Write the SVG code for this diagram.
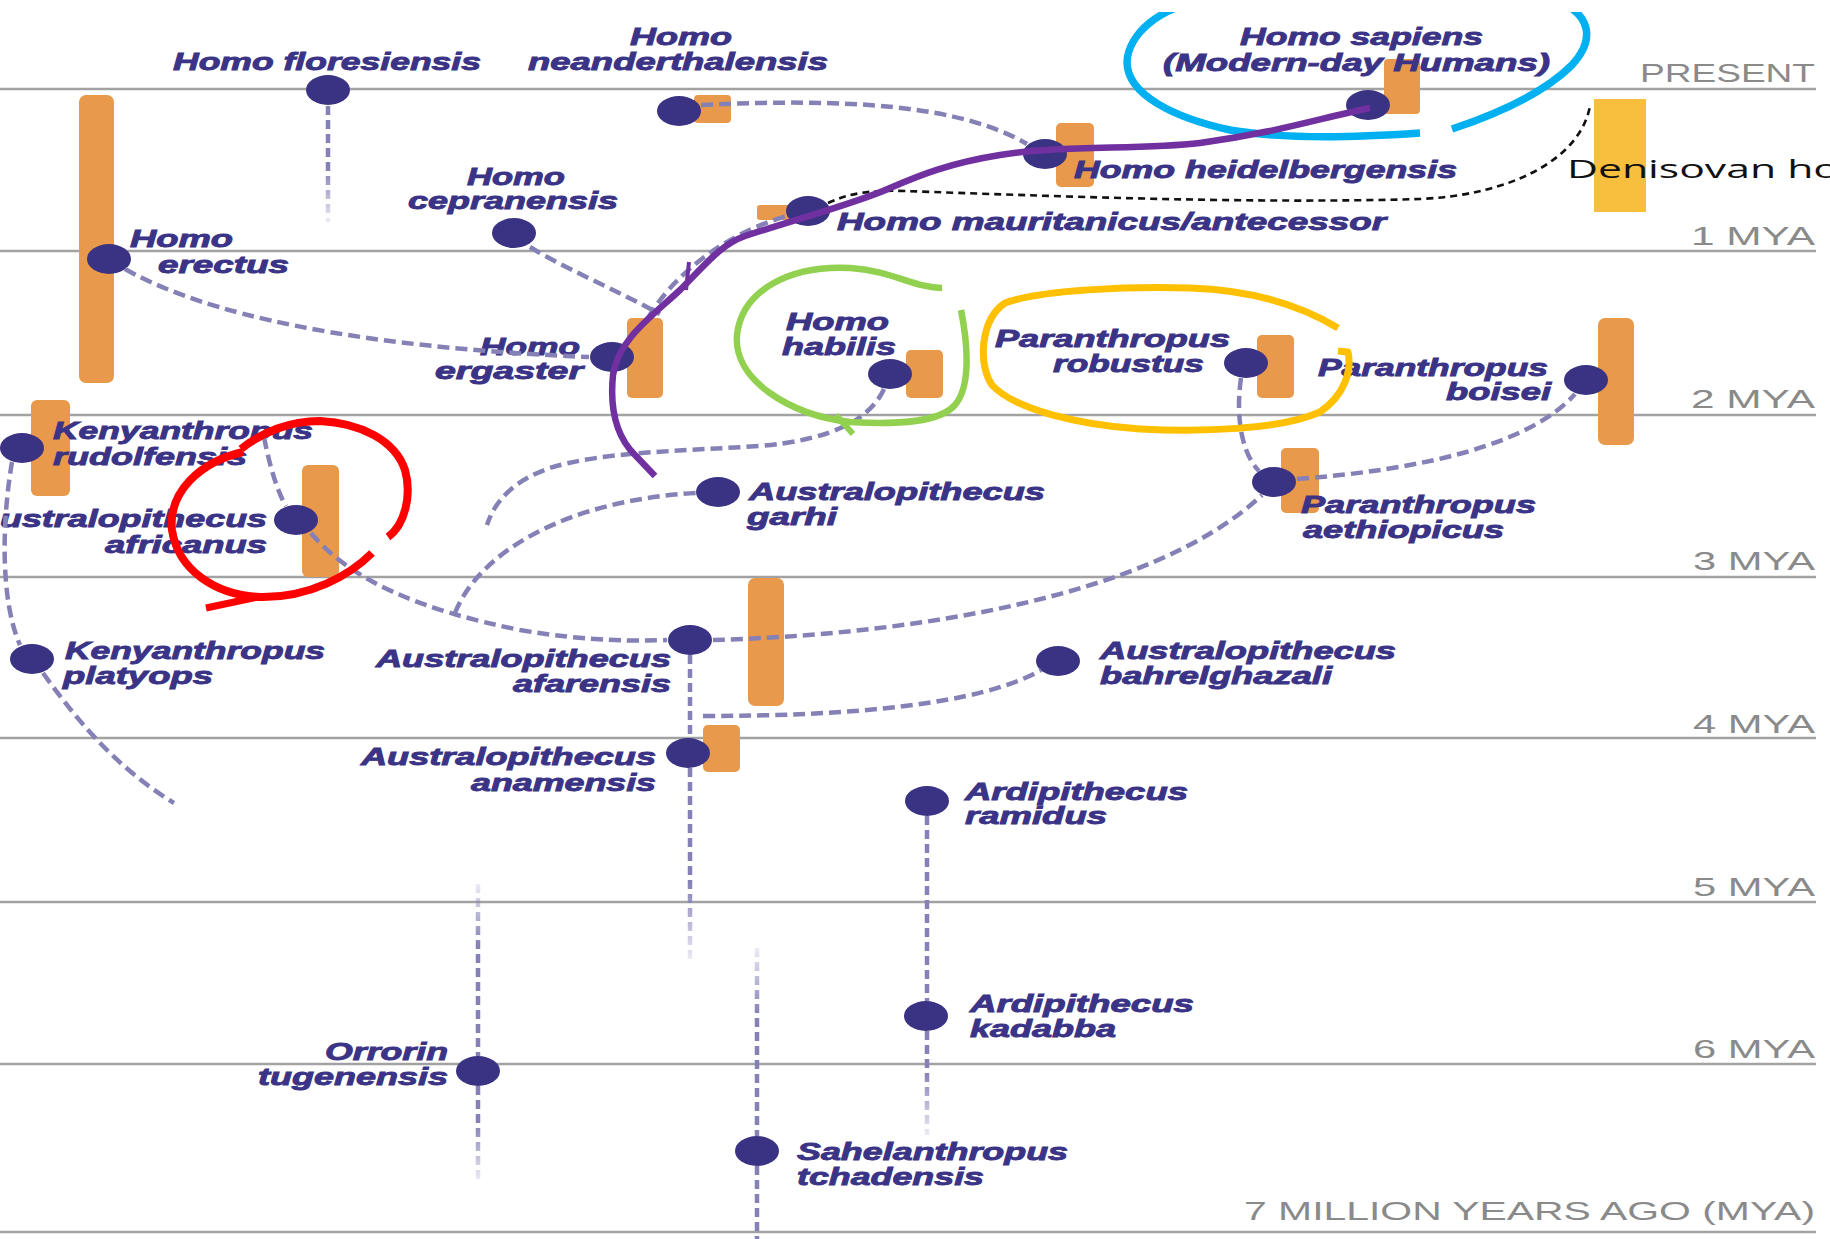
<svg xmlns="http://www.w3.org/2000/svg" width="1830" height="1239" viewBox="0 0 1830 1239">
<style>
.grid{stroke:#a2a2a2;stroke-width:2.6;fill:none}
.axis{font-family:"Liberation Sans",Arial,sans-serif;font-size:26px;fill:#8a8a8a}
.lbl{font-family:"Liberation Sans",Arial,sans-serif;font-size:24px;font-weight:bold;font-style:italic;fill:#3b3486;stroke:#3b3486;stroke-width:0.9}
.bar{fill:#e8994b}
.dot{fill:#3a3282}
.con{fill:none;stroke:#8581b6;stroke-width:4.5;stroke-dasharray:12 6}
.vcon{fill:none;stroke-width:4.5;stroke-dasharray:9 5}
.ann{fill:none;stroke-linecap:butt;stroke-linejoin:round}
</style>
<defs>
<clipPath id="clipTop"><rect x="0" y="12" width="1830" height="1227"/></clipPath>
<linearGradient id="gFlor" gradientUnits="userSpaceOnUse" x1="0" y1="104" x2="0" y2="222"><stop offset="0.55" stop-color="#8581b6"/><stop offset="1" stop-color="#8581b6" stop-opacity="0.15"/></linearGradient>
<linearGradient id="gAfar" gradientUnits="userSpaceOnUse" x1="0" y1="767" x2="0" y2="960"><stop offset="0.6" stop-color="#8581b6"/><stop offset="1" stop-color="#8581b6" stop-opacity="0.15"/></linearGradient>
<linearGradient id="gRam" gradientUnits="userSpaceOnUse" x1="0" y1="1030" x2="0" y2="1135"><stop offset="0.4" stop-color="#8581b6"/><stop offset="1" stop-color="#8581b6" stop-opacity="0.15"/></linearGradient>
<linearGradient id="gOrrA" gradientUnits="userSpaceOnUse" x1="0" y1="884" x2="0" y2="1057"><stop offset="0" stop-color="#8581b6" stop-opacity="0.15"/><stop offset="0.35" stop-color="#8581b6"/></linearGradient>
<linearGradient id="gOrrB" gradientUnits="userSpaceOnUse" x1="0" y1="1085" x2="0" y2="1180"><stop offset="0.4" stop-color="#8581b6"/><stop offset="1" stop-color="#8581b6" stop-opacity="0.15"/></linearGradient>
<linearGradient id="gSah" gradientUnits="userSpaceOnUse" x1="0" y1="948" x2="0" y2="1137"><stop offset="0" stop-color="#8581b6" stop-opacity="0.15"/><stop offset="0.35" stop-color="#8581b6"/></linearGradient>
<linearGradient id="gHab" gradientUnits="userSpaceOnUse" x1="560" y1="0" x2="485" y2="0"><stop offset="0" stop-color="#8581b6"/><stop offset="1" stop-color="#8581b6" stop-opacity="0.2"/></linearGradient>
<linearGradient id="gPlat" gradientUnits="userSpaceOnUse" x1="80" y1="0" x2="175" y2="0"><stop offset="0" stop-color="#8581b6"/><stop offset="1" stop-color="#8581b6" stop-opacity="0.2"/></linearGradient>
</defs>
<rect x="0" y="0" width="1830" height="1239" fill="#ffffff"/>

<g id="timeline">
<line class="grid" x1="0" y1="89" x2="1816" y2="89"/>
<line class="grid" x1="0" y1="251" x2="1816" y2="251"/>
<line class="grid" x1="0" y1="415" x2="1816" y2="415"/>
<line class="grid" x1="0" y1="577" x2="1816" y2="577"/>
<line class="grid" x1="0" y1="738" x2="1816" y2="738"/>
<line class="grid" x1="0" y1="902" x2="1816" y2="902"/>
<line class="grid" x1="0" y1="1064" x2="1816" y2="1064"/>
<line class="grid" x1="0" y1="1232" x2="1816" y2="1232"/>
<text class="axis" x="1640" y="82" textLength="175" lengthAdjust="spacingAndGlyphs">PRESENT</text>
<text class="axis" x="1691" y="245" textLength="124" lengthAdjust="spacingAndGlyphs">1 MYA</text>
<text class="axis" x="1691" y="408" textLength="124" lengthAdjust="spacingAndGlyphs">2 MYA</text>
<text class="axis" x="1693" y="570" textLength="122" lengthAdjust="spacingAndGlyphs">3 MYA</text>
<text class="axis" x="1693" y="733" textLength="122" lengthAdjust="spacingAndGlyphs">4 MYA</text>
<text class="axis" x="1693" y="896" textLength="122" lengthAdjust="spacingAndGlyphs">5 MYA</text>
<text class="axis" x="1693" y="1058" textLength="122" lengthAdjust="spacingAndGlyphs">6 MYA</text>
<text class="axis" x="1244" y="1220" textLength="571" lengthAdjust="spacingAndGlyphs">7 MILLION YEARS AGO (MYA)</text>
</g>

<g id="node-denisovan">
<rect x="1594" y="99" width="52" height="113" fill="#f8bf3e"/>
<text x="1567" y="178" font-family="'Open Sans','Liberation Sans',sans-serif" font-size="26" fill="#111111" textLength="272" lengthAdjust="spacingAndGlyphs">Denisovan ho</text>
</g>

<g id="node-floresiensis">
<ellipse class="dot" cx="328" cy="90" rx="22" ry="15"/>
<text class="lbl" x="173" y="70" textLength="308" lengthAdjust="spacingAndGlyphs">Homo floresiensis</text>
</g>
<g id="node-neanderthalensis">
<rect class="bar" x="694" y="95" width="37" height="28" rx="4"/>
<ellipse class="dot" cx="679" cy="111" rx="22" ry="15"/>
<text class="lbl" x="630" y="45" textLength="102" lengthAdjust="spacingAndGlyphs">Homo</text>
<text class="lbl" x="528" y="70" textLength="300" lengthAdjust="spacingAndGlyphs">neanderthalensis</text>
</g>
<g id="node-sapiens">
<rect class="bar" x="1384" y="59" width="36" height="55" rx="4"/>
<ellipse class="dot" cx="1368" cy="105" rx="22" ry="15"/>
<text class="lbl" x="1240" y="45" textLength="243" lengthAdjust="spacingAndGlyphs">Homo sapiens</text>
<text class="lbl" x="1163" y="71" textLength="387" lengthAdjust="spacingAndGlyphs">(Modern-day Humans)</text>
</g>
<g id="node-heidelbergensis">
<rect class="bar" x="1056" y="123" width="38" height="64" rx="5"/>
<ellipse class="dot" cx="1045" cy="154" rx="22" ry="15"/>
<text class="lbl" x="1074" y="178" textLength="383" lengthAdjust="spacingAndGlyphs">Homo heidelbergensis</text>
</g>
<g id="node-mauritanicus">
<rect class="bar" x="757" y="205" width="36" height="15" rx="3"/>
<ellipse class="dot" cx="808" cy="211" rx="22" ry="15"/>
<text class="lbl" x="837" y="230" textLength="549" lengthAdjust="spacingAndGlyphs">Homo mauritanicus/antecessor</text>
</g>
<g id="node-erectus">
<rect class="bar" x="79" y="95" width="35" height="288" rx="7"/>
<ellipse class="dot" cx="109" cy="259" rx="22" ry="15"/>
<text class="lbl" x="130" y="247" textLength="103" lengthAdjust="spacingAndGlyphs">Homo</text>
<text class="lbl" x="158" y="273" textLength="131" lengthAdjust="spacingAndGlyphs">erectus</text>
</g>
<g id="node-cepranensis">
<ellipse class="dot" cx="514" cy="233" rx="22" ry="15"/>
<text class="lbl" x="467" y="185" textLength="98" lengthAdjust="spacingAndGlyphs">Homo</text>
<text class="lbl" x="408" y="209" textLength="210" lengthAdjust="spacingAndGlyphs">cepranensis</text>
</g>
<g id="node-ergaster">
<rect class="bar" x="627" y="318" width="36" height="80" rx="5"/>
<ellipse class="dot" cx="612" cy="357" rx="22" ry="15"/>
<text class="lbl" x="480" y="355" textLength="100" lengthAdjust="spacingAndGlyphs">Homo</text>
<text class="lbl" x="435" y="379" textLength="148" lengthAdjust="spacingAndGlyphs">ergaster</text>
</g>
<g id="node-habilis">
<rect class="bar" x="906" y="350" width="37" height="48" rx="5"/>
<ellipse class="dot" cx="890" cy="374" rx="22" ry="15"/>
<text class="lbl" x="786" y="330" textLength="103" lengthAdjust="spacingAndGlyphs">Homo</text>
<text class="lbl" x="782" y="355" textLength="114" lengthAdjust="spacingAndGlyphs">habilis</text>
</g>
<g id="node-robustus">
<rect class="bar" x="1257" y="335" width="37" height="63" rx="5"/>
<ellipse class="dot" cx="1246" cy="363" rx="22" ry="15"/>
<text class="lbl" x="995" y="347" textLength="235" lengthAdjust="spacingAndGlyphs">Paranthropus</text>
<text class="lbl" x="1053" y="372" textLength="151" lengthAdjust="spacingAndGlyphs">robustus</text>
</g>
<g id="node-boisei">
<rect class="bar" x="1598" y="318" width="36" height="127" rx="7"/>
<ellipse class="dot" cx="1586" cy="380" rx="22" ry="15"/>
<text class="lbl" x="1318" y="376" textLength="230" lengthAdjust="spacingAndGlyphs">Paranthropus</text>
<text class="lbl" x="1446" y="400" textLength="105" lengthAdjust="spacingAndGlyphs">boisei</text>
</g>
<g id="node-aethiopicus">
<rect class="bar" x="1281" y="448" width="38" height="65" rx="5"/>
<ellipse class="dot" cx="1274" cy="482" rx="22" ry="15"/>
<text class="lbl" x="1301" y="513" textLength="235" lengthAdjust="spacingAndGlyphs">Paranthropus</text>
<text class="lbl" x="1303" y="538" textLength="201" lengthAdjust="spacingAndGlyphs">aethiopicus</text>
</g>
<g id="node-rudolfensis">
<rect class="bar" x="31" y="400" width="39" height="96" rx="6"/>
<ellipse class="dot" cx="22" cy="448" rx="22" ry="15"/>
<text class="lbl" x="53" y="439" textLength="260" lengthAdjust="spacingAndGlyphs">Kenyanthropus</text>
<text class="lbl" x="53" y="465" textLength="194" lengthAdjust="spacingAndGlyphs">rudolfensis</text>
</g>
<g id="node-africanus">
<rect class="bar" x="302" y="465" width="37" height="112" rx="6"/>
<ellipse class="dot" cx="296" cy="520" rx="22" ry="15"/>
<text class="lbl" x="0" y="527" textLength="267" lengthAdjust="spacingAndGlyphs">ustralopithecus</text>
<text class="lbl" x="105" y="553" textLength="162" lengthAdjust="spacingAndGlyphs">africanus</text>
</g>
<g id="node-garhi">
<ellipse class="dot" cx="718" cy="492" rx="22" ry="15"/>
<text class="lbl" x="749" y="500" textLength="296" lengthAdjust="spacingAndGlyphs">Australopithecus</text>
<text class="lbl" x="747" y="525" textLength="90" lengthAdjust="spacingAndGlyphs">garhi</text>
</g>
<g id="node-platyops">
<ellipse class="dot" cx="32" cy="659" rx="22" ry="15"/>
<text class="lbl" x="65" y="659" textLength="260" lengthAdjust="spacingAndGlyphs">Kenyanthropus</text>
<text class="lbl" x="63" y="684" textLength="150" lengthAdjust="spacingAndGlyphs">platyops</text>
</g>
<g id="node-afarensis">
<rect class="bar" x="748" y="578" width="36" height="128" rx="7"/>
<ellipse class="dot" cx="690" cy="640" rx="22" ry="15"/>
<text class="lbl" x="376" y="667" textLength="295" lengthAdjust="spacingAndGlyphs">Australopithecus</text>
<text class="lbl" x="513" y="692" textLength="158" lengthAdjust="spacingAndGlyphs">afarensis</text>
</g>
<g id="node-bahrelghazali">
<ellipse class="dot" cx="1058" cy="661" rx="22" ry="15"/>
<text class="lbl" x="1100" y="659" textLength="296" lengthAdjust="spacingAndGlyphs">Australopithecus</text>
<text class="lbl" x="1100" y="684" textLength="232" lengthAdjust="spacingAndGlyphs">bahrelghazali</text>
</g>
<g id="node-anamensis">
<rect class="bar" x="703" y="725" width="37" height="47" rx="5"/>
<ellipse class="dot" cx="688" cy="753" rx="22" ry="15"/>
<text class="lbl" x="361" y="765" textLength="295" lengthAdjust="spacingAndGlyphs">Australopithecus</text>
<text class="lbl" x="471" y="791" textLength="185" lengthAdjust="spacingAndGlyphs">anamensis</text>
</g>
<g id="node-ramidus">
<ellipse class="dot" cx="927" cy="801" rx="22" ry="15"/>
<text class="lbl" x="965" y="800" textLength="223" lengthAdjust="spacingAndGlyphs">Ardipithecus</text>
<text class="lbl" x="965" y="824" textLength="142" lengthAdjust="spacingAndGlyphs">ramidus</text>
</g>
<g id="node-kadabba">
<ellipse class="dot" cx="926" cy="1016" rx="22" ry="15"/>
<text class="lbl" x="970" y="1012" textLength="224" lengthAdjust="spacingAndGlyphs">Ardipithecus</text>
<text class="lbl" x="970" y="1037" textLength="146" lengthAdjust="spacingAndGlyphs">kadabba</text>
</g>
<g id="node-orrorin">
<ellipse class="dot" cx="478" cy="1071" rx="22" ry="15"/>
<text class="lbl" x="325" y="1060" textLength="123" lengthAdjust="spacingAndGlyphs">Orrorin</text>
<text class="lbl" x="258" y="1085" textLength="190" lengthAdjust="spacingAndGlyphs">tugenensis</text>
</g>
<g id="node-sahelanthropus">
<ellipse class="dot" cx="757" cy="1151" rx="22" ry="15"/>
<text class="lbl" x="797" y="1160" textLength="271" lengthAdjust="spacingAndGlyphs">Sahelanthropus</text>
<text class="lbl" x="797" y="1185" textLength="187" lengthAdjust="spacingAndGlyphs">tchadensis</text>
</g>

<g id="connectors">
<path class="vcon" stroke="url(#gFlor)" d="M 328 106 L 328 222"/>
<path class="con" d="M 701 105 C 850 98, 960 105, 1027 144"/>
<path class="con" d="M 530 247 C 560 266, 620 292, 660 314"/>
<path class="con" d="M 125 269 C 180 300, 300 345, 589 357"/>
<path class="con" d="M 648 318 C 670 280, 720 235, 787 216"/>
<path class="con" stroke="url(#gHab)" d="M 884 389 C 870 420, 830 440, 760 446 C 680 451, 600 452, 550 468 C 515 480, 495 500, 487 525"/>
<path class="con" d="M 264 437 C 270 468, 278 493, 286 506"/>
<path class="con" d="M 311 533 C 350 580, 420 610, 520 630 C 590 642, 640 641, 667 640"/>
<path class="con" d="M 455 613 C 480 550, 570 500, 696 493"/>
<path class="con" d="M 713 640 C 900 635, 1150 600, 1262 495"/>
<path class="con" d="M 1241 378 C 1235 420, 1243 455, 1259 471"/>
<path class="con" d="M 1297 479 C 1420 470, 1530 445, 1575 394"/>
<path class="con" d="M 12 462 C 2 520, 0 600, 20 645"/>
<path class="con" stroke="url(#gPlat)" d="M 43 673 C 80 725, 120 770, 174 803"/>
<path class="vcon" stroke="#8581b6" d="M 690 655 L 690 738"/>
<path class="vcon" stroke="url(#gAfar)" d="M 690 768 L 690 960"/>
<path class="con" d="M 703 716 C 850 716, 980 705, 1041 670"/>
<path class="vcon" stroke="#8581b6" d="M 927 816 L 927 1001"/>
<path class="vcon" stroke="url(#gRam)" d="M 927 1031 L 927 1135"/>
<path class="vcon" stroke="url(#gOrrA)" d="M 478 884 L 478 1056"/>
<path class="vcon" stroke="url(#gOrrB)" d="M 478 1086 L 478 1180"/>
<path class="vcon" stroke="url(#gSah)" d="M 757 948 L 757 1136"/>
<path class="vcon" stroke="#8581b6" d="M 757 1166 L 757 1239"/>
<path fill="none" stroke="#111111" stroke-width="2.6" stroke-dasharray="7 5" d="M 828 203 C 850 193, 870 190, 905 191 C 1050 196, 1250 204, 1420 199 C 1510 195, 1580 160, 1590 106"/>
</g>

<g id="annotations">
<g clip-path="url(#clipTop)">
<path class="ann" stroke="#00b0f0" stroke-width="7.5" d="M 1205 2 C 1160 5, 1128 35, 1127 62 C 1127 95, 1175 118, 1230 130 C 1290 140, 1360 137, 1420 133"/>
<path class="ann" stroke="#00b0f0" stroke-width="7.5" d="M 1452 129 C 1500 113, 1545 92, 1572 65 C 1595 40, 1592 14, 1555 0"/>
</g>
<path class="ann" stroke="#7030a0" stroke-width="6.5" d="M 1370 108 C 1320 118, 1280 132, 1200 143 C 1140 150, 1060 145, 1000 155 C 950 163, 920 175, 890 188 C 860 202, 800 218, 745 236 C 720 245, 705 265, 680 290 C 650 318, 618 340, 613 375 C 610 405, 615 435, 635 455 L 655 476"/>
<path class="ann" stroke="#7030a0" stroke-width="4" d="M 686 290 L 689 262"/>
<path class="ann" stroke="#92d050" stroke-width="6.5" d="M 942 288 C 915 288, 890 270, 850 268 C 790 265, 742 290, 737 335 C 733 380, 790 415, 850 422 C 900 425, 940 422, 955 405 C 972 385, 967 340, 961 310"/>
<path class="ann" stroke="#92d050" stroke-width="6" d="M 836 415 L 853 434"/>
<path class="ann" stroke="#ffc000" stroke-width="7" d="M 1338 328 C 1300 305, 1250 290, 1190 288 C 1130 286, 1040 290, 1005 303 C 980 320, 978 365, 992 385 C 1015 410, 1080 425, 1140 429 C 1200 432, 1280 430, 1320 412 C 1345 395, 1352 370, 1348 352 L 1338 351"/>
<path class="ann" stroke="#ff0000" stroke-width="8" d="M 243 452 C 200 462, 168 492, 172 530 C 178 570, 215 595, 260 597 C 310 598, 350 575, 372 553"/>
<path class="ann" stroke="#ff0000" stroke-width="8" d="M 388 537 C 405 525, 412 495, 405 470 C 395 440, 360 423, 320 421 C 290 421, 262 432, 241 449"/>
<path class="ann" stroke="#ff0000" stroke-width="7" d="M 206 608 L 258 597"/>
</g>
</svg>
